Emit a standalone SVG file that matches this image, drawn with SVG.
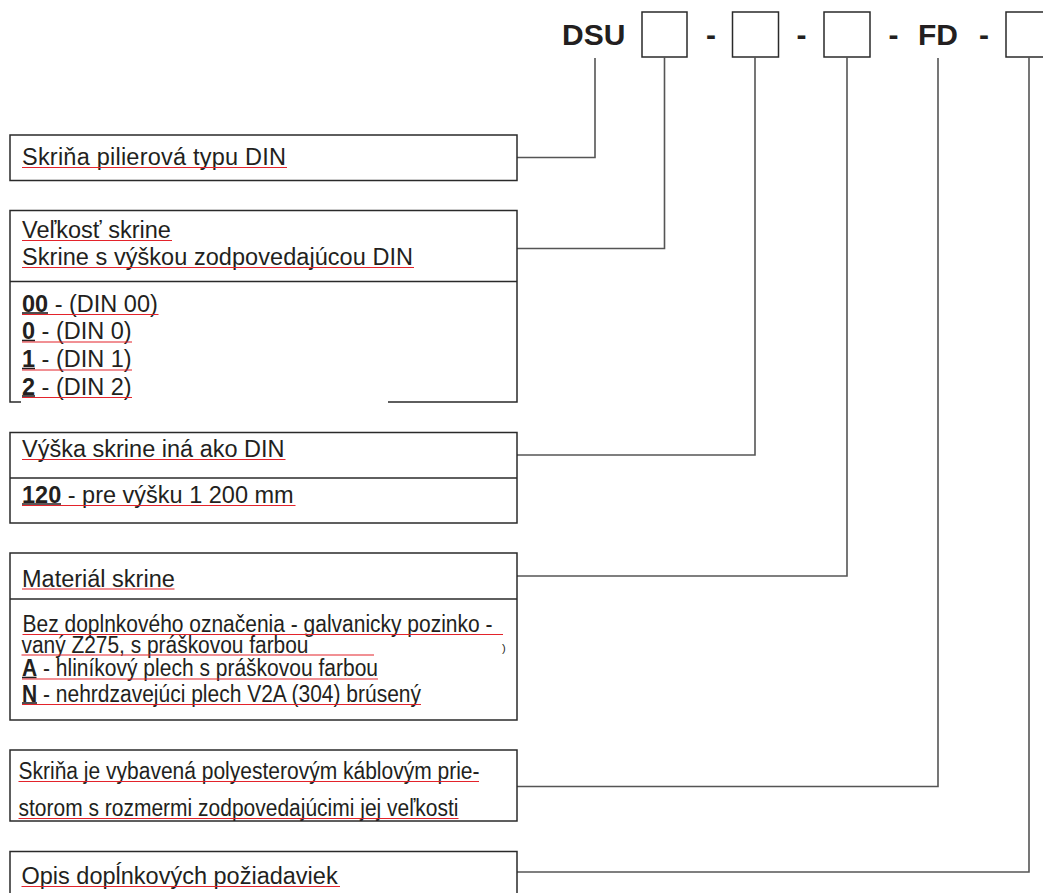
<svg xmlns="http://www.w3.org/2000/svg" width="1043" height="893" viewBox="0 0 1043 893">
<style>
  .bg{fill:#ffffff}
  .box{fill:none;stroke:#2a2a2a;stroke-width:1.5}
  .con{fill:none;stroke:#555555;stroke-width:1.6}
  .t{font-family:"Liberation Sans",Arial,sans-serif;font-size:23.5px;fill:#231f20}
  .s{font-size:23px}
  .b{font-weight:bold}
  .code{font-family:"Liberation Sans",Arial,sans-serif;font-size:30px;font-weight:bold;fill:#231f20}
  .sp{stroke:#e3232b;stroke-width:1.2}
  .ul{stroke:#231f20;stroke-width:1.6}
</style>
<rect class="bg" x="0" y="0" width="1043" height="893"/>

<g id="code">
  <text class="code" x="562" y="44.5">DSU</text>
  <rect class="box" x="642" y="12" width="45" height="45"/>
  <text class="code" x="711" y="44.5" text-anchor="middle">-</text>
  <rect class="box" x="732.5" y="12" width="46" height="45"/>
  <text class="code" x="801.5" y="44.5" text-anchor="middle">-</text>
  <rect class="box" x="824" y="12" width="46" height="45"/>
  <text class="code" x="893.5" y="44.5" text-anchor="middle">-</text>
  <text class="code" x="918" y="44.5">FD</text>
  <text class="code" x="984" y="44.5" text-anchor="middle">-</text>
  <rect class="box" x="1006" y="12" width="46" height="45"/>
</g>

<g id="connectors">
  <polyline class="con" points="595,58 595,157.5 517,157.5"/>
  <polyline class="con" points="664.5,57 664.5,248.5 517,248.5"/>
  <polyline class="con" points="755,57 755,455 517,455"/>
  <polyline class="con" points="847,57 847,576 517,576"/>
  <polyline class="con" points="938,58 938,786.5 517,786.5"/>
  <polyline class="con" points="1029,57 1029,872 517,872"/>
</g>

<g id="node-typ">
  <rect class="box" x="10" y="135" width="507" height="45.5"/>
  <text class="t" x="22" y="165" textLength="264" lengthAdjust="spacing">Skriňa pilierová typu DIN</text>
  <line class="sp" x1="22" y1="167.5" x2="287" y2="167.5"/>
</g>

<g id="node-velkost">
  <polyline class="box" points="21,402 10,402 10,210.5 517,210.5 517,402 388,402"/>
  <line class="box" x1="10" y1="281.5" x2="517" y2="281.5"/>
  <text class="t" x="22" y="238">Veľkosť skrine</text>
  <line class="sp" x1="22" y1="240.5" x2="172" y2="240.5"/>
  <text class="t" x="22" y="265" textLength="391" lengthAdjust="spacing">Skrine s výškou zodpovedajúcou DIN</text>
  <line class="sp" x1="22" y1="267.5" x2="414" y2="267.5"/>
  <text class="t" x="22" y="311.5"><tspan class="b">00</tspan> - (DIN 00)</text>
  <line class="ul" x1="22" y1="313" x2="48" y2="313"/>
  <line class="sp" x1="22" y1="314.5" x2="158.5" y2="314.5"/>
  <text class="t" x="22" y="339"><tspan class="b">0</tspan> - (DIN 0)</text>
  <line class="ul" x1="22" y1="340.5" x2="35" y2="340.5"/>
  <line class="sp" x1="22" y1="342" x2="132" y2="342"/>
  <text class="t" x="22" y="367"><tspan class="b">1</tspan> - (DIN 1)</text>
  <line class="ul" x1="22" y1="368.5" x2="35" y2="368.5"/>
  <line class="sp" x1="22" y1="370" x2="132" y2="370"/>
  <text class="t" x="22" y="394.5"><tspan class="b">2</tspan> - (DIN 2)</text>
  <line class="ul" x1="22" y1="396" x2="35" y2="396"/>
  <line class="sp" x1="22" y1="397.5" x2="132" y2="397.5"/>
</g>

<g id="node-vyska">
  <rect class="box" x="10" y="432.5" width="507" height="90.5"/>
  <line class="box" x1="10" y1="478" x2="517" y2="478"/>
  <text class="t" x="22" y="457">Výška skrine iná ako DIN</text>
  <line class="sp" x1="22" y1="459.5" x2="285.5" y2="459.5"/>
  <text class="t" x="22" y="502.5"><tspan class="b">120</tspan> - pre výšku 1 200 mm</text>
  <line class="ul" x1="22" y1="504" x2="61" y2="504"/>
  <line class="sp" x1="22" y1="505.5" x2="295.5" y2="505.5"/>
</g>

<g id="node-material">
  <rect class="box" x="10" y="553" width="507" height="167"/>
  <line class="box" x1="10" y1="599" x2="517" y2="599"/>
  <text class="t" x="22" y="586.5">Materiál skrine</text>
  <line class="sp" x1="22" y1="589" x2="174.5" y2="589"/>
  <text class="t s" x="22.5" y="632" textLength="470" lengthAdjust="spacingAndGlyphs">Bez doplnkového označenia - galvanicky pozinko -</text>
  <line class="sp" x1="22.5" y1="634.5" x2="503" y2="634.5"/>
  <text class="t s" x="21.5" y="652.5" textLength="287" lengthAdjust="spacingAndGlyphs">vaný Z275, s práškovou farbou</text>
  <line class="sp" x1="21.5" y1="655" x2="374" y2="655"/>
  <text class="t" x="502" y="652" style="font-size:11px">)</text>
  <text class="t s" x="22" y="676" textLength="356" lengthAdjust="spacingAndGlyphs"><tspan class="b">A</tspan> - hliníkový plech s práškovou farbou</text>
  <line class="ul" x1="22" y1="677.5" x2="36.5" y2="677.5"/>
  <line class="sp" x1="22" y1="679" x2="378" y2="679"/>
  <text class="t s" x="22" y="701.5" textLength="399" lengthAdjust="spacingAndGlyphs"><tspan class="b">N</tspan> - nehrdzavejúci plech V2A (304) brúsený</text>
  <line class="ul" x1="22" y1="703" x2="37" y2="703"/>
  <line class="sp" x1="22" y1="704.5" x2="421" y2="704.5"/>
</g>

<g id="node-priestor">
  <rect class="box" x="10" y="750" width="507" height="71"/>
  <text class="t s" x="18.5" y="779" textLength="461" lengthAdjust="spacingAndGlyphs">Skriňa je vybavená polyesterovým káblovým prie-</text>
  <line class="sp" x1="18.5" y1="781.5" x2="479" y2="781.5"/>
  <text class="t s" x="18.5" y="816" textLength="440" lengthAdjust="spacingAndGlyphs">storom s rozmermi zodpovedajúcimi jej veľkosti</text>
  <line class="sp" x1="18.5" y1="818.5" x2="458.5" y2="818.5"/>
</g>

<g id="node-opis">
  <polyline class="box" points="10,895 10,851.5 517,851.5 517,895"/>
  <text class="t" x="21.5" y="884">Opis dopĺnkových požiadaviek</text>
  <line class="sp" x1="21.5" y1="886.5" x2="340" y2="886.5"/>
</g>
</svg>
